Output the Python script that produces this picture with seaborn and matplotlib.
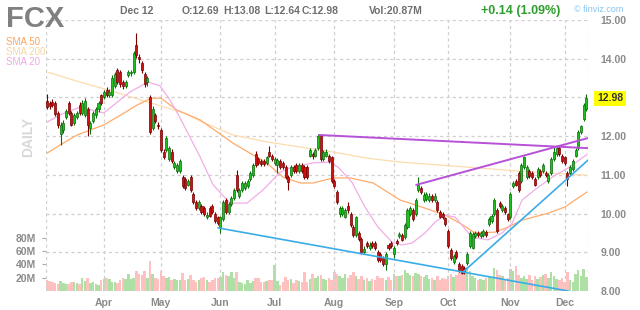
import numpy as np
import matplotlib
matplotlib.use("Agg")
import matplotlib.pyplot as plt
import seaborn as sns

# ---------------- data ----------------
opens = [12.90, 12.85, 12.88, 12.86, 12.60, 12.05, 12.15, 12.50, 12.85, 12.60,
         12.35, 12.50, 12.80, 12.60, 12.55, 12.70, 12.20, 12.40, 12.55, 12.70,
         13.05, 13.00, 13.20, 13.05, 13.05, 13.30, 13.70, 13.65, 13.40, 13.30,
         13.58, 13.62, 13.65, 14.35, 14.05, 13.90, 13.60, 13.40, 13.00, 12.20,
         12.55, 12.30, 12.15, 11.60, 11.65, 11.40, 11.60, 11.20, 11.10, 11.10,
         10.95, 10.90, 10.75, 10.95, 10.50, 10.30, 10.15, 10.20, 10.15, 9.90,
         10.15, 10.20, 10.00, 9.90, 9.65, 9.85, 10.35, 10.05, 10.25, 10.40,
         11.00, 10.45, 10.60, 10.65, 10.70, 10.90, 11.00, 11.55, 11.40, 11.35,
         11.35, 11.30, 11.60, 11.50, 11.30, 11.25, 11.35, 11.30, 11.20, 10.95,
         11.00, 11.20, 11.25, 11.10, 11.25, 11.20, 11.20, 11.50, 11.55, 11.50,
         11.70, 12.00, 11.40, 11.50, 11.50, 11.45, 10.85, 10.55, 10.00, 10.00,
         9.92, 10.20, 10.00, 9.65, 9.45, 9.50, 9.35, 9.00, 9.25, 9.10,
         9.25, 9.25, 9.00, 8.95, 8.85, 8.70, 9.20, 9.25, 8.95, 9.28,
         9.42, 9.45, 9.40, 9.65, 10.00, 10.09, 10.00, 10.60, 10.65, 10.35,
         10.38, 10.35, 10.45, 10.35, 10.30, 10.05, 9.98, 9.88, 9.55, 9.05,
         8.75, 9.00, 8.70, 8.65, 8.60, 8.72, 9.15, 9.12, 9.42, 9.50,
         9.42, 9.45, 9.52, 9.72, 9.80, 10.00, 10.10, 10.28, 10.10, 10.15,
         9.98, 9.90, 10.70, 10.85, 11.05, 10.85, 11.20, 10.95, 11.10, 11.05,
         10.90, 10.95, 11.10, 11.10, 11.05, 10.85, 11.05, 11.40, 11.55, 11.70,
         11.50, 11.45, 11.05, 11.05, 11.15, 11.50, 11.70, 12.10, 12.45, 12.69]
closes = [12.76, 12.78, 12.80, 12.58, 12.30, 12.30, 12.35, 12.65, 12.60, 12.30,
          12.55, 12.60, 12.60, 12.85, 12.90, 12.30, 12.35, 12.60, 12.70, 12.85,
          12.85, 13.15, 13.05, 13.15, 13.50, 13.60, 13.40, 13.35, 13.30, 13.40,
          13.65, 13.66, 14.15, 14.10, 13.98, 13.70, 13.35, 13.50, 12.10, 12.70,
          12.40, 12.25, 11.65, 11.45, 11.95, 11.70, 11.35, 11.30, 11.25, 11.35,
          10.70, 10.65, 10.85, 10.60, 10.30, 10.15, 10.30, 10.05, 10.00, 9.97,
          9.95, 10.05, 9.80, 9.75, 9.90, 10.30, 10.05, 10.25, 10.40, 10.60,
          10.60, 10.60, 10.80, 10.80, 10.85, 11.05, 11.25, 11.25, 11.30, 11.28,
          11.28, 11.45, 11.50, 11.40, 11.40, 11.38, 11.20, 11.20, 10.95, 10.82,
          11.20, 11.10, 11.10, 11.25, 11.10, 10.95, 10.95, 11.65, 11.48, 11.65,
          12.00, 11.40, 11.60, 11.60, 11.35, 10.85, 10.70, 10.30, 10.15, 10.15,
          10.08, 10.08, 9.70, 9.45, 9.90, 9.35, 9.00, 9.08, 9.15, 9.20,
          9.15, 9.12, 8.80, 8.80, 8.70, 8.95, 9.10, 9.15, 9.10, 9.24,
          9.48, 9.32, 9.70, 10.10, 10.14, 9.85, 10.35, 10.75, 10.55, 10.48,
          10.50, 10.45, 10.35, 10.45, 10.10, 9.92, 9.90, 9.72, 9.15, 8.85,
          8.90, 8.88, 8.55, 8.47, 8.50, 8.95, 9.50, 9.47, 9.50, 9.44,
          9.50, 9.55, 9.45, 9.85, 9.95, 10.35, 9.55, 10.20, 10.20, 10.05,
          9.85, 10.50, 10.80, 10.75, 10.60, 11.25, 11.45, 11.20, 10.98, 10.95,
          10.75, 11.15, 11.00, 11.25, 11.00, 11.00, 11.40, 11.60, 11.70, 11.55,
          11.35, 11.30, 10.90, 11.20, 11.35, 11.65, 12.10, 12.25, 12.80, 12.98]
highs = [13.10, 12.92, 12.95, 12.90, 12.66, 12.36, 12.42, 12.70, 12.92, 12.66,
         12.60, 12.66, 12.88, 12.94, 12.98, 12.76, 12.40, 12.66, 12.76, 12.92,
         13.10, 13.20, 13.26, 13.22, 13.58, 13.66, 13.76, 13.70, 13.46, 13.46,
         13.70, 13.72, 14.20, 14.66, 14.12, 13.95, 13.65, 13.56, 13.05, 12.78,
         12.60, 12.36, 12.20, 11.68, 12.00, 11.75, 11.66, 11.36, 11.30, 11.40,
         11.00, 10.95, 10.90, 11.00, 10.55, 10.35, 10.36, 10.25, 10.20, 10.03,
         10.20, 10.25, 10.05, 9.95, 9.95, 10.35, 10.40, 10.30, 10.45, 10.65,
         11.12, 10.65, 10.85, 10.85, 10.90, 11.10, 11.30, 11.62, 11.45, 11.40,
         11.40, 11.50, 11.75, 11.55, 11.46, 11.44, 11.40, 11.35, 11.25, 11.00,
         11.25, 11.25, 11.30, 11.30, 11.30, 11.25, 11.25, 11.70, 11.60, 11.70,
         12.05, 12.03, 11.65, 11.66, 11.55, 11.50, 10.90, 10.60, 10.20, 10.20,
         10.15, 10.30, 10.05, 9.70, 9.95, 9.55, 9.40, 9.15, 9.30, 9.26,
         9.30, 9.30, 9.05, 9.00, 8.90, 9.00, 9.25, 9.30, 9.15, 9.35,
         9.52, 9.50, 9.75, 10.15, 10.20, 10.15, 10.40, 10.94, 10.72, 10.55,
         10.56, 10.52, 10.50, 10.52, 10.35, 10.10, 10.03, 9.92, 9.60, 9.10,
         8.95, 9.05, 8.75, 8.70, 8.65, 9.00, 9.55, 9.52, 9.56, 9.55,
         9.55, 9.60, 9.57, 9.90, 10.00, 10.40, 10.15, 10.33, 10.25, 10.20,
         10.02, 10.55, 10.85, 10.90, 11.10, 11.30, 11.50, 11.25, 11.15, 11.10,
         10.95, 11.20, 11.15, 11.30, 11.10, 11.05, 11.45, 11.75, 11.78, 11.75,
         11.55, 11.50, 11.10, 11.25, 11.40, 11.70, 12.15, 12.30, 12.85, 13.08]
lows = [12.70, 12.70, 12.74, 12.52, 12.22, 11.77, 12.08, 12.44, 12.55, 12.26,
        12.30, 12.44, 12.55, 12.55, 12.50, 12.00, 12.05, 12.35, 12.48, 12.62,
        12.80, 12.95, 13.00, 13.00, 13.00, 13.25, 13.35, 13.28, 13.22, 13.25,
        13.52, 13.56, 13.60, 14.02, 13.90, 13.62, 13.28, 13.30, 12.05, 12.15,
        12.34, 12.18, 11.60, 11.40, 11.60, 11.35, 11.30, 11.15, 11.05, 11.05,
        10.65, 10.60, 10.70, 10.55, 10.25, 10.10, 10.10, 10.00, 9.95, 9.86,
        9.90, 10.00, 9.75, 9.70, 9.50, 9.82, 10.00, 10.00, 10.20, 10.35,
        10.55, 10.40, 10.55, 10.60, 10.65, 10.85, 10.95, 11.20, 11.25, 11.22,
        11.22, 11.25, 11.45, 11.35, 11.25, 11.05, 11.15, 11.15, 10.90, 10.60,
        10.95, 11.05, 11.05, 11.05, 11.05, 10.90, 10.90, 11.45, 11.42, 11.45,
        11.65, 11.35, 11.35, 11.45, 11.30, 10.80, 10.65, 10.25, 9.90, 9.95,
        9.88, 10.02, 9.65, 9.40, 9.40, 9.30, 8.95, 8.95, 9.10, 9.05,
        9.10, 9.05, 8.75, 8.75, 8.65, 8.55, 9.05, 9.10, 8.85, 9.20,
        9.38, 9.28, 9.35, 9.60, 9.95, 9.80, 9.95, 10.55, 10.50, 10.30,
        10.32, 10.30, 10.30, 10.30, 10.05, 9.88, 9.85, 9.68, 9.10, 8.80,
        8.70, 8.82, 8.50, 8.43, 8.45, 8.68, 9.10, 9.08, 9.38, 9.40,
        9.38, 9.40, 9.40, 9.68, 9.75, 9.95, 9.50, 10.15, 10.05, 10.00,
        9.80, 9.85, 10.65, 10.70, 10.55, 10.80, 11.15, 10.90, 10.92, 10.90,
        10.70, 10.90, 10.95, 11.05, 10.95, 10.80, 11.00, 11.35, 11.50, 11.50,
        11.30, 11.25, 10.70, 11.00, 11.10, 11.45, 11.65, 12.05, 12.40, 12.64]
volume_m = [16, 15, 14, 12, 11, 15, 12, 11, 11, 13, 13, 12, 11, 20, 15, 19, 12, 13, 11, 9,
            16, 18, 19, 18, 13, 14, 12, 16, 20, 18, 26, 18, 20, 30, 26, 24, 30, 20, 45, 26,
            20, 18, 30, 22, 19, 21, 17, 18, 16, 17, 27, 17, 18, 24, 17, 14, 17, 19, 21, 17,
            13, 16, 20, 19, 21, 28, 24, 22, 29, 19, 28, 14, 12, 11, 16, 12, 15, 20, 19, 13,
            13, 15, 16, 17, 39, 15, 9, 14, 21, 16, 18, 12, 17, 15, 14, 29, 14, 18, 26, 20,
            22, 24, 18, 17, 19, 16, 29, 26, 22, 20, 26, 20, 24, 28, 22, 18, 22, 17, 20, 15,
            18, 16, 22, 19, 20, 17, 21, 16, 26, 22, 23, 24, 31, 27, 24, 22, 27, 25, 22, 21,
            24, 18, 20, 16, 22, 17, 20, 18, 22, 26, 21, 24, 28, 30, 32, 36, 30, 22, 19, 16,
            18, 17, 19, 23, 20, 34, 32, 24, 22, 16, 20, 33, 30, 38, 24, 20, 22, 18, 24, 16,
            22, 18, 21, 24, 26, 20, 29, 22, 18, 16, 20, 14, 29, 17, 14, 25, 31, 22, 33, 21]

month_idx = [21, 42, 64, 84, 106, 128, 148, 171, 191]
month_lbl = ["Apr", "May", "Jun", "Jul", "Aug", "Sep", "Oct", "Nov", "Dec"]

sma20_x = [0, 4.8, 12.2, 21, 30.6, 37.3, 41.7, 45.4, 49.1, 56.5, 61.3, 67.5, 73.8, 79.7, 86,
           89.7, 98.2, 104.4, 107.4, 112.5, 117.3, 122.1, 127.3, 131, 134.7, 139.5, 143.2,
           146.9, 150.6, 156.8, 162.7, 167.9, 171.6, 175.3, 181.2, 187.5, 192.3, 199.3]
sma20_v = [12.36, 12.55, 12.75, 12.60, 13.14, 13.40, 13.30, 12.93, 12.47, 11.46, 10.74, 10.27,
           10.27, 10.61, 11.07, 11.18, 11.31, 11.33, 11.20, 10.81, 10.17, 9.65, 9.26, 9.19, 9.24,
           9.50, 9.78, 9.96, 9.91, 9.39, 9.32, 9.50, 9.75, 10.35, 10.68, 10.99, 11.18, 11.53]
sma50_x = [0, 4.8, 11.1, 21, 27.3, 33.2, 38.4, 42.1, 48, 56.5, 68.6, 81.2, 87.1, 93.4, 98.2,
           105.5, 111.8, 120.3, 130.3, 139.5, 146.9, 152.4, 157.9, 165.3, 170.1, 175.3, 184.9,
           191.1, 194.8, 199.3]
sma50_v = [11.56, 11.77, 12.03, 12.29, 12.55, 12.80, 12.98, 12.98, 12.67, 12.42, 11.82, 11.30,
           10.94, 10.79, 10.79, 10.92, 10.92, 10.79, 10.35, 10.14, 9.96, 9.75, 9.50, 9.52, 9.65,
           9.83, 10.01, 10.17, 10.35, 10.56]
sma200_x = [0, 11.1, 23.6, 35.8, 50.6, 56.5, 68.6, 81.2, 93.4, 105.5, 118.1, 130.3, 155, 179.3, 199.3]
sma200_v = [13.66, 13.42, 13.17, 12.91, 12.60, 12.39, 12.03, 11.85, 11.72, 11.59, 11.43, 11.33,
            11.20, 11.07, 10.99]

purple1_x = [100.4, 199.6]
purple1_v = [12.03, 11.69]
purple2_x = [136.2, 199.6]
purple2_v = [10.74, 11.95]
blue1_x = [63.1, 192.3]
blue1_v = [9.63, 8.00]
blue2_x = [153.5, 199.6]
blue2_v = [8.49, 11.38]

price_ticks = [8, 9, 10, 11, 12, 13, 14, 15]
vol_ticks = [20, 40, 60, 80]

# ---------------- styling ----------------
sns.set_style("white")
plt.rcParams["font.family"] = ["Liberation Sans", "DejaVu Sans"]

W, H = 640, 310
fig = plt.figure(figsize=(W / 100, H / 100), dpi=100)
fig.patch.set_facecolor("white")

left, right, top, bottom = 46, 588, 20, 291
pos = [left / W, 1 - bottom / H, (right - left) / W, (bottom - top) / H]
axv = fig.add_axes(pos)
ax = fig.add_axes(pos)
ax.patch.set_visible(False)

n = len(closes)
idx = np.arange(n)
o = np.array(opens); c = np.array(closes); hi = np.array(highs); lo = np.array(lows)
up = c >= o
xmin, xmax = -0.37, 199.6

# volume
vol = np.array(volume_m, dtype=float)
axv.bar(idx[up], vol[up], width=0.92, color="#aee0a6", linewidth=0)
axv.bar(idx[~up], vol[~up], width=0.92, color="#ffc0c0", linewidth=0)
axv.set_xlim(xmin, xmax)
axv.set_ylim(0, 407.5)
axv.set_yticks(vol_ticks)
axv.set_yticklabels([f"{v}M" for v in vol_ticks])
axv.tick_params(axis="y", left=True, length=3, width=0.8, color="#aaaaaa", pad=4,
                labelsize=7.5, labelcolor="#8a8a8a")
for t in axv.get_yticklabels():
    t.set_fontweight("bold")
axv.set_xticks([])
for s in axv.spines.values():
    s.set_visible(False)

# grid
gkw = dict(color="#cfcfcf", lw=0.9, ls=(0, (2.5, 2.5)), zorder=0)
for p in price_ticks[1:]:
    ax.axhline(p, **gkw)
for m in month_idx:
    ax.axvline(m, **gkw)
ax.axvline(xmin + 0.05, **gkw)
ax.axvline(xmax - 0.05, **gkw)

# moving averages
sns.lineplot(x=sma200_x, y=sma200_v, ax=ax, color="#fcdcae", lw=0.9, zorder=2)
sns.lineplot(x=sma50_x, y=sma50_v, ax=ax, color="#ffab6a", lw=0.9, zorder=2)
sns.lineplot(x=sma20_x, y=sma20_v, ax=ax, color="#f3ace9", lw=0.9, zorder=2)

# candles
wick_col = np.where(up, "#0b6e0b", "#7a0000")
body_col = np.where(up, "#1ec21e", "#cc1111")
edge_col = np.where(up, "#0a6a0a", "#7a0000")
ax.vlines(idx, lo, hi, colors=wick_col, lw=0.8, zorder=3)
bot = np.minimum(o, c)
hgt = np.maximum(np.abs(c - o), 0.02)
ax.bar(idx, hgt, bottom=bot, width=0.75, color=body_col, edgecolor=edge_col,
       linewidth=0.5, zorder=4)

# trend lines
sns.lineplot(x=purple1_x, y=purple1_v, ax=ax, color="#b752d8", lw=1.4, zorder=5)
sns.lineplot(x=purple2_x, y=purple2_v, ax=ax, color="#b752d8", lw=1.4, zorder=5)
sns.lineplot(x=blue1_x, y=blue1_v, ax=ax, color="#3aace8", lw=1.2, zorder=5)
sns.lineplot(x=blue2_x, y=blue2_v, ax=ax, color="#3aace8", lw=1.2, zorder=5)

ax.set_xlim(xmin, xmax)
ax.set_ylim(8, 15)
ax.yaxis.tick_right()
ax.set_yticks(price_ticks)
# the 13.00 label is hidden behind the last-price tag in the reference
ax.set_yticklabels(["" if p == 13 else f"{p:.2f}" for p in price_ticks])
ax.set_xticks(month_idx)
ax.set_xticklabels(month_lbl)
ax.tick_params(axis="both", length=0, labelsize=7.5, labelcolor="#8a8a8a")
ax.tick_params(axis="y", pad=9)
ax.tick_params(axis="x", pad=5)
for t in ax.get_xticklabels() + ax.get_yticklabels():
    t.set_fontweight("bold")
for s in ax.spines.values():
    s.set_visible(False)
ax.set_xlabel("")
ax.set_ylabel("")

# last price tag
ax.text(1.0 + 9 / (right - left), closes[-1], f"{closes[-1]:.2f}",
        transform=ax.get_yaxis_transform(),
        ha="left", va="center", fontsize=7.5, fontweight="bold", color="#333333",
        bbox=dict(boxstyle="square,pad=0.25", fc="#ffff00", ec="none"), zorder=10)

# header texts
def ftext(x, y, s, **kw):
    fig.text(x / W, 1 - y / H, s, **kw)

ftext(6, 19, "FCX", fontsize=21, fontweight="bold", color="#808080", va="center", ha="left")
ftext(6, 42, "SMA 50", fontsize=7, color="#ffa45c", va="center")
ftext(6, 52, "SMA 200", fontsize=7, color="#f8d6a0", va="center")
ftext(6, 62, "SMA 20", fontsize=7, color="#f0a6e6", va="center")
ftext(28, 137, "DAILY", fontsize=10, fontweight="bold", color="#d8d8d8", rotation=90,
      va="center", ha="center")
hdr = dict(fontsize=7.5, fontweight="bold", color="#6e6e6e", va="center", ha="left")
ftext(120, 11, "Dec 12", **hdr)
ftext(182, 11, "O:12.69", **hdr)
ftext(223, 11, "H:13.08", **hdr)
ftext(264, 11, "L:12.64", **hdr)
ftext(302, 11, "C:12.98", **hdr)
ftext(369, 11, "Vol:20.87M", **hdr)
ftext(481, 11, "+0.14 (1.09%)", fontsize=9, fontweight="bold", color="#2e9e2e", va="center")
ftext(574, 10, "\u00a9 finviz.com", fontsize=6.5, color="#86c4f0", va="center")

fig.savefig("out.png", dpi=100, facecolor="white")
